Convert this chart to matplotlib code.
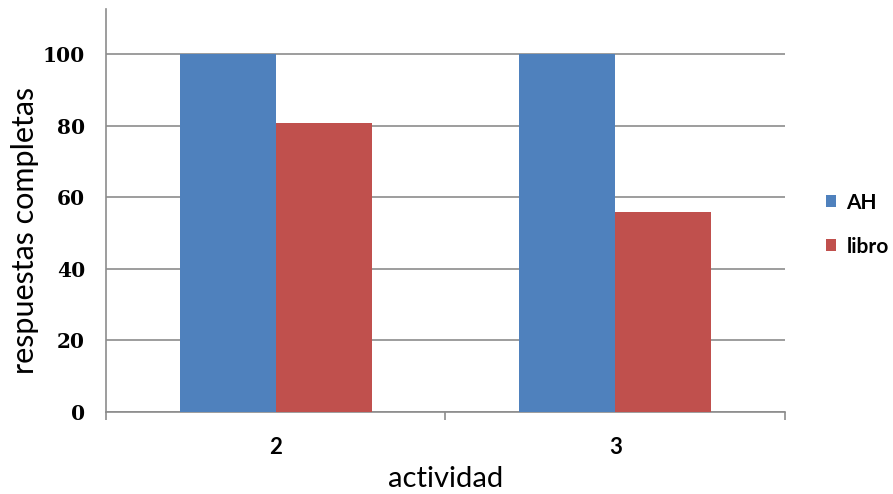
import matplotlib
matplotlib.use("Agg")
import matplotlib.pyplot as plt
import numpy as np

categories = ["2", "3"]
series_names = ["AH", "libro"]
ah_values = [100, 100]
libro_values = [80.6, 56]
y_ticks = [0, 20, 40, 60, 80, 100]

blue = "#4F81BD"
red = "#C0504D"
grid_gray = "#8C8C8C"

plt.rcParams["font.family"] = ["Lato", "DejaVu Sans"]

fig = plt.figure(figsize=(8.93, 4.94), dpi=100)
ax = fig.add_axes([0.1187, 0.166, 0.7603, 0.816])

x = np.arange(len(categories)) + 2
width = 0.283
ax.bar(x - width / 2, ah_values, width, color=blue, label=series_names[0], zorder=3)
ax.bar(x + width / 2, libro_values, width, color=red, label=series_names[1], zorder=3)

ax.set_xlim(1.5, 3.5)
ax.set_ylim(0, 112.6)

ax.set_yticks(y_ticks)
ax.set_yticklabels([str(v) for v in y_ticks], fontsize=14.5, fontweight="bold",
                   family=["DejaVu Serif"])
ax.set_yticks([0], minor=True)
ax.tick_params(axis="y", which="major", length=0, pad=15)
ax.tick_params(axis="y", which="minor", length=6, color=grid_gray, width=1.2)

ax.set_xticks(x)
ax.set_xticklabels(categories, fontsize=16, fontweight="bold")
ax.set_xticks([1.5, 2.5, 3.5], minor=True)
ax.tick_params(axis="x", which="major", length=0, pad=18)
ax.tick_params(axis="x", which="minor", length=6, color=grid_gray, width=1.2)

ax.grid(axis="y", color=grid_gray, linewidth=1.2, zorder=0)
for side in ("top", "right"):
    ax.spines[side].set_visible(False)
for side in ("left", "bottom"):
    ax.spines[side].set_color(grid_gray)
    ax.spines[side].set_linewidth(1.2)

ax.set_ylabel("respuestas completas", fontsize=22)
ax.yaxis.set_label_coords(-0.098, 0.45)
ax.set_xlabel("actividad", fontsize=21, labelpad=6)

ax.legend(loc="center left", bbox_to_anchor=(1.06, 0.465), frameon=False,
          borderaxespad=0, borderpad=0,
          prop={"size": 15, "weight": "bold"}, handlelength=0.5, handleheight=0.5,
          handletextpad=0.5, labelspacing=1.15)

fig.savefig("out.png", dpi=100, facecolor="white")
